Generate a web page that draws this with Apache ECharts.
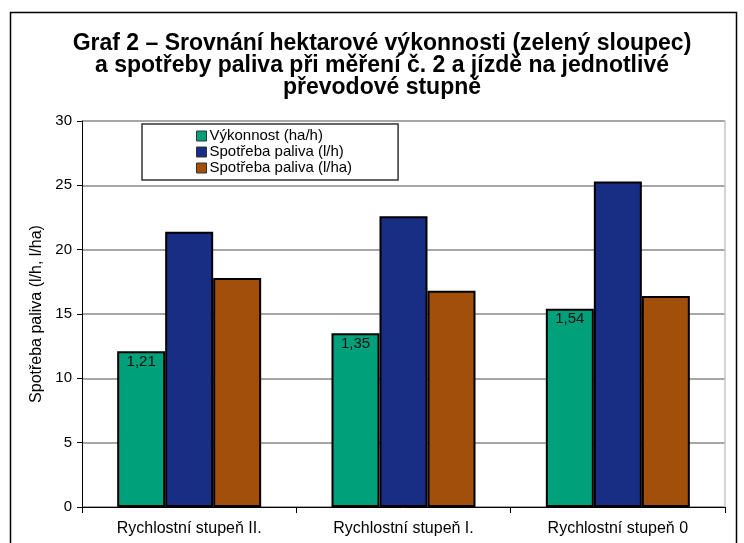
<!DOCTYPE html>
<html><head><meta charset="utf-8">
<script src="https://cdn.jsdelivr.net/npm/echarts@6/dist/echarts.min.js"></script>
<style>html,body{margin:0;padding:0;background:#fff}#c{width:744px;height:543px}</style>
</head><body><div id="c"></div>
<script>
const categories = ['Rychlostní stupeň II.', 'Rychlostní stupeň I.', 'Rychlostní stupeň 0'];
const seriesNames = ['Výkonnost (ha/h)', 'Spotřeba paliva (l/h)', 'Spotřeba paliva (l/ha)'];
const vykonnost = [12.1, 13.5, 15.4];
const vykonnostLabels = ['1,21', '1,35', '1,54'];
const spotrebaLh = [21.4, 22.6, 25.3];
const spotrebaLha = [17.8, 16.8, 16.4];
const yTicks = [0, 5, 10, 15, 20, 25, 30];

const FONT = 'Liberation Sans';
const chart = echarts.init(document.getElementById('c'), null, {renderer: 'canvas'});
const barBase = {type: 'bar', barWidth: 48, barGap: '0%', itemStyle: {borderColor: '#000', borderWidth: 2}};
chart.setOption({
  animation: false,
  backgroundColor: '#fff',
  textStyle: {fontFamily: FONT},
  graphic: [{type: 'rect', shape: {x: 10.5, y: 12.5, width: 726, height: 560}, style: {fill: 'none', stroke: '#000', lineWidth: 1.5}, silent: true}],
  title: {
    text: 'Graf 2 – Srovnání hektarové výkonnosti (zelený sloupec)\na spotřeby paliva při měření č. 2 a jízdě na jednotlivé\npřevodové stupně',
    left: 382, top: 33, textAlign: 'center', padding: 0,
    textStyle: {fontFamily: FONT, fontSize: 23, fontWeight: 'bold', color: '#000', lineHeight: 22}
  },
  legend: {
    data: seriesNames, orient: 'vertical', left: 142, top: 124,
    padding: [4, 46, 4, 54], itemGap: 0, itemWidth: 10, itemHeight: 10, icon: 'rect',
    backgroundColor: '#fff', borderColor: '#333', borderWidth: 1.5,
    itemStyle: {borderColor: '#333', borderWidth: 1},
    textStyle: {fontFamily: FONT, fontSize: 15, color: '#000', lineHeight: 16, padding: [0, 0, 0, -2]}
  },
  grid: {left: 82, right: 19, top: 121, bottom: 36, containLabel: false},
  xAxis: {
    type: 'category', data: categories,
    axisLine: {lineStyle: {color: '#000', width: 1}},
    axisTick: {show: true, length: 6, lineStyle: {color: '#000'}},
    axisLabel: {fontFamily: FONT, fontSize: 16, color: '#000', margin: 14}
  },
  yAxis: [{
    type: 'value', min: yTicks[0], max: yTicks[yTicks.length - 1], interval: 5,
    name: 'Spotřeba paliva (l/h, l/ha)', nameLocation: 'middle', nameGap: 35,
    nameTextStyle: {fontFamily: FONT, fontSize: 16, color: '#000'},
    axisLine: {show: true, lineStyle: {color: '#000', width: 1}},
    axisTick: {show: true, length: 5, lineStyle: {color: '#000'}},
    axisLabel: {fontFamily: FONT, fontSize: 15, color: '#000', margin: 10},
    splitLine: {show: true, lineStyle: {color: '#888', width: 1.5}}
  }, {
    type: 'value', position: 'right', min: yTicks[0], max: yTicks[yTicks.length - 1], interval: 5,
    axisLine: {show: true, lineStyle: {color: '#c4c4c4', width: 1.5}},
    axisTick: {show: false}, axisLabel: {show: false}, splitLine: {show: false}
  }],
  series: [
    Object.assign({}, barBase, {name: seriesNames[0], color: '#00a07a', data: vykonnost,
      label: {show: true, position: 'insideTop', distance: 3, fontFamily: FONT, fontSize: 15, color: '#111',
        formatter: p => vykonnostLabels[p.dataIndex]}}),
    Object.assign({}, barBase, {name: seriesNames[1], color: '#182e84', data: spotrebaLh}),
    Object.assign({}, barBase, {name: seriesNames[2], color: '#a24f0c', data: spotrebaLha})
  ]
});
</script></body></html>
